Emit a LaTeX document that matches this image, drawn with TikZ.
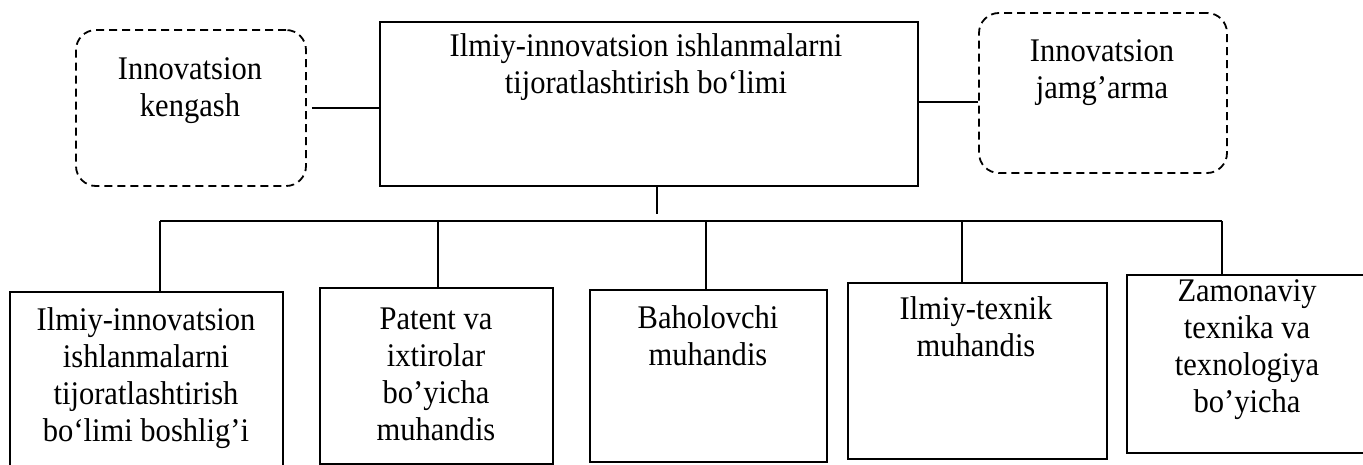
\documentclass[tikz,border=0pt]{standalone}
\usepackage{fontspec}
\setmainfont{Liberation Serif}[FakeStretch=0.925]
\begin{document}
\begin{tikzpicture}[x=1pt,y=-1pt,
  ln/.style={line width=2pt,draw=black},
  sbox/.style={ln,rectangle,inner sep=0pt},
  dbox/.style={line width=1.8pt,draw=black,dash pattern=on 8pt off 5pt,rounded corners=20pt,rectangle,inner sep=0pt},
  txt/.style={font=\fontsize{33}{37}\selectfont,align=center,inner sep=0pt}]
\useasboundingbox (0,0) rectangle (1363,465);
% top row
\node[dbox,minimum width=230pt,minimum height=156pt] (lk) at (191,108) {};
\node[sbox,minimum width=538pt,minimum height=164pt] (main) at (649,104) {};
\node[dbox,minimum width=248pt,minimum height=160pt] (rj) at (1103,93) {};
\node[txt] (tlk) at (190,91) {Innovatsion\\kengash};
\node[txt] (tmain) at (646,67) {Ilmiy-innovatsion ishlanmalarni\\tijoratlashtirish bo‘limi};
\node[txt] (trj) at (1102,73) {Innovatsion\\jamg’arma};
% bottom row
\node[sbox,minimum width=273pt,minimum height=178pt] (b1) at (146.5,381) {};
\node[sbox,minimum width=233pt,minimum height=176pt] (b2) at (436.5,376) {};
\node[sbox,minimum width=237pt,minimum height=172pt] (b3) at (708.5,376) {};
\node[sbox,minimum width=259pt,minimum height=176pt] (b4) at (977.5,371) {};
\node[sbox,minimum width=243pt,minimum height=178pt] (b5) at (1248.5,364) {};
\node[txt] (t1) at (146,378) {Ilmiy-innovatsion\\ishlanmalarni\\tijoratlashtirish\\bo‘limi boshlig’i};
\node[txt] (t2) at (436,374) {Patent va\\ixtirolar\\bo’yicha\\muhandis};
\node[txt] (t3) at (708,336) {Baholovchi\\muhandis};
\node[txt] (t4) at (976,327) {Ilmiy-texnik\\muhandis};
\node[txt] (t5) at (1247,350) {Zamonaviy\\texnika va\\texnologiya\\bo’yicha};
% side connectors
\draw[ln] ([xshift=5pt]lk.east) -- (main.west |- lk.east);
\draw[ln] ([yshift=2pt]main.east) -- ([yshift=2pt]main.east -| rj.west);
% bus
\coordinate (mv) at (657,214);
\coordinate (d1) at (160,221);
\coordinate (d2) at (438,221);
\coordinate (d3) at (706,221);
\coordinate (d4) at (962,221);
\coordinate (d5) at (1222,221);
\draw[ln] (main.south -| mv) -- (mv);
\draw[ln] (d1) -- (d5);
\draw[ln] (d1) -- (d1 |- b1.north);
\draw[ln] (d2) -- (d2 |- b2.north);
\draw[ln] (d3) -- (d3 |- b3.north);
\draw[ln] (d4) -- (d4 |- b4.north);
\draw[ln] (d5) -- (d5 |- b5.north);
\end{tikzpicture}
\end{document}
